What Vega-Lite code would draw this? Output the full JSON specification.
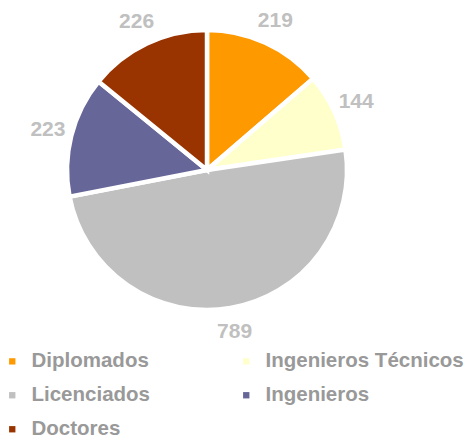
{
  "$schema": "https://vega.github.io/schema/vega-lite/v6.json",
  "width": 414,
  "height": 340,
  "padding": 0,
  "autosize": {"type": "pad"},
  "background": "white",
  "data": {
    "values": [
      {"categoria": "Diplomados", "valor": 219, "orden": 1},
      {"categoria": "Ingenieros Técnicos", "valor": 144, "orden": 2},
      {"categoria": "Licenciados", "valor": 789, "orden": 3},
      {"categoria": "Ingenieros", "valor": 223, "orden": 4},
      {"categoria": "Doctores", "valor": 226, "orden": 5}
    ]
  },
  "encoding": {
    "theta": {"field": "valor", "type": "quantitative", "stack": true},
    "order": {"field": "orden", "type": "quantitative"},
    "color": {
      "field": "categoria",
      "type": "nominal",
      "scale": {
        "domain": ["Diplomados", "Ingenieros Técnicos", "Licenciados", "Ingenieros", "Doctores"],
        "range": ["#ff9900", "#ffffcc", "#c0c0c0", "#666699", "#993300"]
      },
      "legend": {
        "title": null,
        "orient": "none",
        "direction": "horizontal",
        "padding": 0,
        "legendX": 2,
        "legendY": 351,
        "columns": 2,
        "columnPadding": 86,
        "rowPadding": 13,
        "symbolType": "square",
        "symbolSize": 40,
        "symbolStrokeWidth": 0,
        "labelFont": "Liberation Sans",
        "labelFontWeight": "bold",
        "labelFontSize": 20.5,
        "labelColor": "#999999",
        "labelOffset": 9,
        "labelLimit": 300
      }
    }
  },
  "layer": [
    {"mark": {"type": "arc", "outerRadius": 140, "stroke": "white", "strokeWidth": 4.5}},
    {
      "mark": {"type": "text", "radius": 164, "font": "Liberation Sans", "fontWeight": "bold", "fontSize": 21},
      "encoding": {
        "text": {"field": "valor", "type": "quantitative"},
        "color": {"value": "#c0c0c0"}
      }
    }
  ]
}
